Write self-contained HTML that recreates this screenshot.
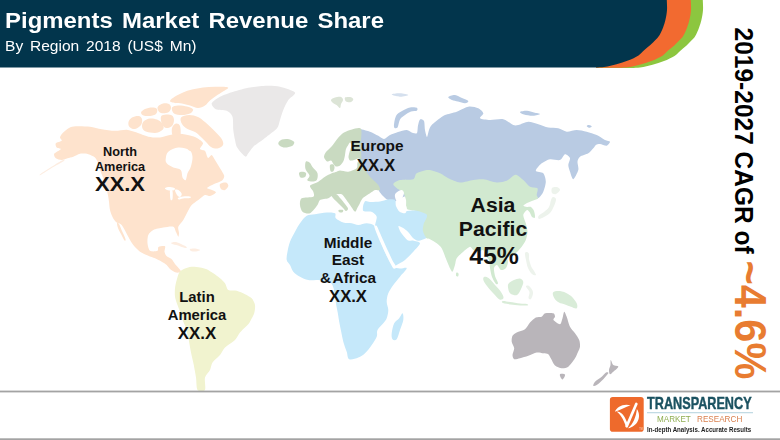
<!DOCTYPE html>
<html lang="en"><head><meta charset="utf-8"><title>Pigments Market Revenue Share</title>
<style>
html,body{margin:0;padding:0;background:#fff;}
body{width:780px;height:440px;position:relative;overflow:hidden;font-family:"Liberation Sans",sans-serif;}
#art{position:absolute;left:0;top:0;width:780px;height:440px;display:block;}
.t{position:absolute;white-space:nowrap;font-weight:bold;color:#111;line-height:1;}
.c{transform:translateX(-50%) scaleX(1.06);text-align:center;}
#title{left:5.2px;top:9.9px;font-size:22.6px;color:#fff;word-spacing:2.4px;transform-origin:0 0;transform:scaleX(1.06);}
#sub{left:4.6px;top:38.9px;font-size:14.7px;color:#fff;font-weight:normal;word-spacing:2.3px;transform-origin:0 0;transform:scaleX(1.06);}
#cagr{left:0;top:0;transform-origin:0 0;transform:translate(772.2px,27.6px) rotate(90deg) scaleY(1.06);font-size:24.5px;color:#000;}
#cagr b{color:#E87C31;font-size:41.5px;}
</style></head><body>
<svg id="art" viewBox="0 0 780 440" width="780" height="440">
<defs><filter id="soft" x="0" y="0" width="780" height="440" filterUnits="userSpaceOnUse"><feGaussianBlur stdDeviation="0.45"/></filter></defs>
<g filter="url(#soft)">
<path fill="#B9CBE3" d="M362.0,129.5 C363.4,129.8 367.8,130.9 370.0,131.7 C372.2,132.5 376.4,134.8 378.3,135.8 C380.2,136.8 382.4,139.1 384.0,139.0 C385.6,138.9 388.1,135.9 390.0,135.0 C391.9,134.1 395.8,132.7 398.0,132.0 C400.2,131.3 404.7,129.9 406.7,130.0 C408.7,130.1 411.6,132.6 413.0,133.0 C414.4,133.4 416.3,134.0 417.0,133.0 C417.7,132.0 417.6,127.3 418.0,125.5 C418.4,123.7 419.2,120.1 420.0,119.5 C420.8,118.9 423.3,119.6 424.0,121.0 C424.7,122.4 424.6,127.9 425.0,130.0 C425.4,132.1 426.5,137.0 427.0,137.0 C427.5,137.0 428.4,131.6 429.0,130.0 C429.6,128.4 430.2,126.6 431.7,125.0 C433.2,123.4 438.2,119.6 440.0,118.3 C441.8,117.0 442.8,115.9 445.0,115.0 C447.2,114.1 453.6,112.8 456.7,111.7 C459.8,110.6 465.4,107.2 468.3,106.7 C471.2,106.2 476.3,107.4 478.3,108.3 C480.3,109.2 483.1,112.0 483.3,113.3 C483.5,114.6 479.1,117.4 480.0,118.3 C480.9,119.2 486.9,119.9 490.0,120.0 C493.1,120.1 500.2,118.5 503.3,119.2 C506.4,119.9 511.3,124.2 513.3,125.0 C515.3,125.8 516.3,125.4 518.3,125.0 C520.3,124.6 525.6,121.8 528.3,121.7 C531.0,121.6 535.6,123.4 538.3,124.2 C541.0,125.0 545.6,127.0 548.3,127.5 C551.0,128.0 555.8,127.7 558.3,128.3 C560.8,128.9 564.2,131.5 566.7,131.7 C569.2,131.9 574.0,130.0 576.7,130.0 C579.4,130.0 584.0,131.0 586.7,131.7 C589.4,132.4 594.3,133.9 596.7,135.0 C599.1,136.1 603.2,139.1 605.0,140.0 C606.8,140.9 609.8,140.9 610.0,141.7 C610.2,142.5 608.0,145.5 606.7,145.8 C605.4,146.1 601.4,144.1 600.0,144.0 C598.6,143.9 596.9,144.4 596.0,145.0 C595.1,145.6 594.3,147.2 593.3,148.3 C592.3,149.4 590.1,152.2 588.3,153.3 C586.5,154.4 581.4,155.6 580.0,156.7 C578.6,157.8 577.7,159.9 577.5,161.7 C577.3,163.5 578.9,167.7 578.3,170.0 C577.7,172.3 574.4,179.0 573.3,179.2 C572.2,179.4 570.7,173.6 570.0,171.7 C569.3,169.8 568.3,166.8 568.3,165.0 C568.3,163.2 570.4,159.4 570.0,158.0 C569.6,156.6 566.3,153.9 565.0,154.2 C563.7,154.5 562.0,159.3 560.0,160.0 C558.0,160.7 552.4,158.8 550.0,159.2 C547.6,159.6 543.6,161.8 541.7,163.3 C539.8,164.8 535.6,169.5 535.8,170.8 C536.0,172.1 542.0,171.8 543.3,173.3 C544.6,174.8 545.8,179.2 545.8,181.7 C545.8,184.2 544.2,189.6 543.3,191.7 C542.4,193.8 540.3,196.5 539.2,197.5 C538.1,198.5 537.6,198.7 535.0,199.0 C532.4,199.3 524.7,200.5 520.0,200.0 C515.3,199.5 509.3,195.7 500.0,195.0 C490.7,194.3 462.0,195.0 450.0,195.0 C438.0,195.0 417.2,194.2 410.0,195.0 C402.8,195.8 398.9,200.3 396.0,201.0 C393.1,201.7 389.7,200.7 388.0,200.0 C386.3,199.3 384.2,197.2 383.0,196.0 C381.8,194.8 379.8,192.4 379.0,191.0 C378.2,189.6 378.6,187.4 377.3,185.5 C376.0,183.6 371.0,179.5 369.0,177.0 C367.0,174.5 363.5,169.5 362.3,167.0 C361.1,164.5 360.3,161.6 360.0,158.0 C359.7,154.4 360.1,143.8 360.0,140.0 C359.9,136.2 359.2,130.9 359.5,129.5 C359.8,128.1 360.6,129.2 362.0,129.5 Z"/>
<path fill="#B9CBE3" d="M416.7,107.8 C415.6,107.2 412.4,107.0 410.0,107.5 C407.6,108.0 404.3,109.6 402.0,111.0 C399.7,112.4 397.3,113.4 396.0,116.0 C394.7,118.6 393.8,124.8 394.0,126.7 C394.2,128.6 396.5,128.7 397.5,127.5 C398.5,126.3 398.8,121.6 400.0,119.5 C401.2,117.4 403.2,116.3 405.0,115.0 C406.8,113.7 409.0,112.2 411.0,111.5 C413.0,110.8 415.9,111.4 416.8,110.8 C417.8,110.2 417.8,108.3 416.7,107.8 Z"/>
<path fill="#B9CBE3" d="M448.3,97.0 C448.8,96.2 452.7,94.8 455.0,95.0 C457.3,95.2 459.8,97.0 462.0,98.0 C464.2,99.0 467.8,100.1 468.3,101.0 C468.8,101.9 466.7,103.2 465.0,103.3 C463.3,103.4 460.2,102.0 458.0,101.5 C455.8,101.0 453.6,100.8 452.0,100.0 C450.4,99.2 447.8,97.8 448.3,97.0 Z"/>
<path fill="#B9CBE3" d="M520.0,112.0 C520.5,111.4 524.7,110.7 527.0,110.8 C529.3,110.9 531.8,112.0 534.0,112.5 C536.2,113.0 540.2,113.5 540.0,114.0 C539.8,114.5 535.7,115.7 533.0,115.8 C530.3,115.9 526.2,115.1 524.0,114.5 C521.8,113.9 519.5,112.6 520.0,112.0 Z"/>
<path fill="#D5E0EE" d="M391.7,94.5 C391.7,93.9 397.2,93.2 400.0,93.3 C402.8,93.4 408.3,94.4 408.3,95.0 C408.3,95.6 402.8,96.8 400.0,96.7 C397.2,96.6 391.7,95.1 391.7,94.5 Z"/>
<path fill="#B9CBE3" d="M586.7,126.0 C586.7,125.5 588.2,124.9 589.0,125.0 C589.8,125.1 591.7,126.0 591.7,126.5 C591.7,127.0 589.8,127.9 589.0,127.8 C588.2,127.7 586.7,126.5 586.7,126.0 Z"/>
<path fill="#C5E8FA" d="M306.7,215.8 C309.2,214.3 311.7,214.8 315.0,214.2 C318.3,213.6 323.4,212.7 326.7,212.5 C330.0,212.3 333.5,212.3 335.0,213.3 C336.5,214.3 334.4,216.8 335.8,218.3 C337.2,219.8 340.7,221.7 343.3,222.5 C345.9,223.3 349.2,222.9 351.7,223.3 C354.2,223.7 355.8,225.0 358.3,225.0 C360.8,225.0 364.2,223.3 366.7,223.3 C369.2,223.3 371.8,224.1 373.3,225.0 C374.9,225.9 374.9,226.5 376.0,229.0 C377.1,231.5 378.5,236.2 380.0,240.0 C381.5,243.8 383.3,248.1 385.0,251.7 C386.7,255.3 388.6,259.1 390.0,261.7 C391.4,264.2 391.6,265.9 393.3,267.0 C395.0,268.1 397.8,268.3 400.0,268.5 C402.2,268.7 406.7,266.9 406.7,268.3 C406.7,269.7 402.2,273.9 400.0,276.7 C397.8,279.5 395.2,282.2 393.3,285.0 C391.4,287.8 389.4,290.5 388.3,293.3 C387.2,296.1 386.7,298.9 386.7,301.7 C386.7,304.5 388.3,307.2 388.3,310.0 C388.3,312.8 387.5,316.1 386.7,318.3 C385.9,320.5 384.8,321.4 383.3,323.3 C381.8,325.2 378.6,327.8 377.5,330.0 C376.4,332.2 377.7,334.2 376.7,336.7 C375.7,339.2 373.6,342.2 371.7,345.0 C369.8,347.8 367.2,351.2 365.0,353.3 C362.8,355.4 360.9,356.5 358.3,357.5 C355.7,358.5 351.1,360.2 349.2,359.2 C347.3,358.2 347.7,354.6 346.7,351.7 C345.7,348.8 344.2,345.0 343.3,341.7 C342.4,338.4 341.9,335.0 341.2,331.7 C340.5,328.4 339.8,324.8 339.2,321.7 C338.6,318.6 338.3,315.8 337.8,313.0 C337.3,310.2 336.7,307.8 336.2,305.0 C335.7,302.2 335.4,298.8 335.0,296.0 C334.6,293.2 334.3,290.2 333.5,288.0 C332.7,285.8 332.5,283.8 330.0,282.5 C327.5,281.2 321.9,280.4 318.3,280.0 C314.7,279.6 311.4,280.6 308.3,280.0 C305.2,279.4 302.5,278.1 300.0,276.7 C297.5,275.3 295.0,273.6 293.3,271.7 C291.6,269.8 291.1,266.9 290.0,265.0 C288.9,263.1 287.1,262.2 286.7,260.0 C286.3,257.8 286.9,254.8 287.5,251.7 C288.1,248.6 288.8,245.0 290.0,241.7 C291.2,238.4 293.3,234.8 295.0,231.7 C296.7,228.6 298.1,226.0 300.0,223.3 C301.9,220.7 304.2,217.3 306.7,215.8 Z"/>
<path fill="#C5E8FA" d="M402.5,313.3 C403.2,313.6 403.7,317.2 403.3,320.0 C402.9,322.8 401.1,326.8 400.0,330.0 C398.9,333.2 397.9,337.7 396.7,339.2 C395.4,340.7 393.3,340.2 392.5,339.2 C391.7,338.2 391.4,335.9 391.7,333.3 C392.0,330.7 392.9,325.8 394.2,323.3 C395.4,320.8 397.8,320.0 399.2,318.3 C400.6,316.6 401.8,313.0 402.5,313.3 Z"/>
<path fill="#C5E8FA" d="M365.5,201.0 C366.4,200.6 368.1,201.9 370.0,202.0 C371.9,202.1 377.6,201.8 380.0,201.5 C382.4,201.2 386.0,199.7 388.0,199.5 C390.0,199.3 393.9,199.1 395.0,200.0 C396.1,200.9 395.3,204.4 396.0,206.0 C396.7,207.6 398.5,211.3 400.0,212.0 C401.5,212.7 404.6,211.3 407.0,211.0 C409.4,210.7 415.1,209.7 418.0,210.0 C420.9,210.3 427.8,211.6 429.0,213.5 C430.2,215.4 427.5,221.7 427.0,224.0 C426.5,226.3 425.0,229.2 425.0,231.0 C425.0,232.8 427.9,236.2 427.0,237.5 C426.1,238.8 420.1,240.7 418.3,240.8 C416.5,240.9 414.5,239.3 413.3,238.3 C412.1,237.3 410.2,234.3 409.0,233.0 C407.8,231.7 405.4,229.4 404.0,228.5 C402.6,227.6 399.0,225.7 398.5,226.0 C398.0,226.3 399.3,229.6 400.0,231.0 C400.7,232.4 402.9,235.2 404.0,236.5 C405.1,237.8 406.8,240.0 408.0,240.5 C409.2,241.0 411.4,240.1 413.0,240.5 C414.6,240.9 420.0,241.8 420.0,243.3 C420.0,244.8 415.3,249.5 413.3,251.7 C411.3,253.9 407.2,258.2 405.0,260.0 C402.8,261.8 398.4,264.0 396.7,265.0 C395.0,266.0 393.4,267.9 392.5,267.5 C391.6,267.1 391.0,263.8 390.0,261.7 C389.0,259.6 386.3,254.6 385.0,251.7 C383.7,248.8 381.1,242.9 380.0,240.0 C378.9,237.1 377.7,231.9 377.0,230.0 C376.3,228.1 375.0,227.8 375.0,226.0 C375.0,224.2 377.1,218.6 376.7,216.7 C376.3,214.8 373.4,212.7 372.0,212.0 C370.6,211.3 367.2,211.7 366.0,211.5 C364.8,211.3 363.4,211.4 363.0,210.5 C362.6,209.6 363.0,206.3 363.3,205.0 C363.6,203.7 364.6,201.4 365.5,201.0 Z"/>
<path fill="#FFFFFF" d="M374.3,226.5 C374.3,225.6 376.1,225.3 376.8,226.0 C377.5,226.7 378.6,230.0 379.5,232.0 C380.4,234.0 382.3,238.3 383.5,241.0 C384.7,243.7 387.2,249.3 388.5,252.0 C389.8,254.7 391.9,259.5 393.0,261.5 C394.1,263.5 396.4,266.3 396.5,267.2 C396.6,268.1 394.3,269.0 393.5,268.5 C392.7,268.0 391.6,265.5 390.5,263.5 C389.4,261.5 386.8,256.3 385.5,253.5 C384.2,250.7 381.7,245.2 380.5,242.5 C379.3,239.8 377.3,235.1 376.5,233.0 C375.7,230.9 374.3,227.4 374.3,226.5 Z"/>
<path fill="#D1E9D0" d="M393.3,184.0 C393.6,182.8 397.3,180.6 400.0,180.0 C402.7,179.4 411.1,180.1 413.3,179.2 C415.5,178.3 414.7,174.5 416.7,173.3 C418.7,172.1 425.2,170.0 428.3,170.0 C431.4,170.0 437.3,172.2 440.0,173.3 C442.7,174.4 445.6,177.1 448.3,178.3 C451.0,179.5 456.7,182.3 460.0,182.5 C463.3,182.7 470.2,180.4 473.3,180.0 C476.4,179.6 480.2,178.9 483.3,179.2 C486.4,179.5 493.6,182.3 496.7,182.5 C499.8,182.7 504.5,181.7 506.7,180.8 C508.9,179.9 512.0,176.6 513.3,175.8 C514.6,175.0 515.4,174.4 516.7,175.0 C518.0,175.6 521.5,178.4 523.3,180.0 C525.1,181.6 528.1,185.6 530.0,186.7 C531.9,187.8 536.6,187.2 537.5,188.3 C538.4,189.4 536.6,193.6 536.7,195.0 C536.8,196.4 538.5,197.8 538.0,198.5 C537.5,199.2 534.8,199.9 533.3,200.5 C531.8,201.1 528.3,202.3 527.0,203.0 C525.7,203.7 523.3,205.3 523.3,205.8 C523.3,206.3 526.0,206.8 527.0,207.0 C528.0,207.2 530.1,206.5 531.0,207.0 C531.9,207.5 533.5,209.6 534.0,211.0 C534.5,212.4 535.3,216.7 535.0,217.5 C534.7,218.3 532.7,217.7 532.0,217.0 C531.3,216.3 530.2,212.9 529.5,212.0 C528.8,211.1 527.8,209.6 527.0,210.0 C526.2,210.4 523.5,213.2 523.3,215.0 C523.1,216.8 525.2,221.1 525.8,223.3 C526.4,225.5 527.5,229.5 527.5,231.7 C527.5,233.9 526.6,238.0 525.8,240.0 C525.0,242.0 522.9,245.1 521.7,246.7 C520.5,248.3 518.3,250.8 517.0,252.0 C515.7,253.2 513.3,255.3 512.0,256.0 C510.7,256.7 507.5,256.2 507.0,257.0 C506.5,257.8 508.1,260.5 508.0,262.0 C507.9,263.5 506.9,266.9 506.0,268.0 C505.1,269.1 502.2,270.4 501.0,270.0 C499.8,269.6 497.9,265.3 497.0,265.0 C496.1,264.7 494.3,266.5 494.0,268.0 C493.7,269.5 494.5,274.0 495.0,276.0 C495.5,278.0 497.9,281.9 498.0,283.0 C498.1,284.1 496.8,284.8 496.0,284.0 C495.2,283.2 492.8,279.1 492.0,277.0 C491.2,274.9 490.4,270.3 490.0,268.0 C489.6,265.7 489.5,261.6 489.0,260.0 C488.5,258.4 486.8,257.3 486.0,256.0 C485.2,254.7 484.1,250.5 483.0,250.0 C481.9,249.5 479.3,252.0 478.0,252.0 C476.7,252.0 474.4,250.7 473.3,250.0 C472.2,249.3 471.3,246.5 470.0,246.7 C468.7,246.9 465.1,250.2 463.3,251.7 C461.5,253.2 457.8,256.5 456.7,258.3 C455.6,260.1 455.6,263.2 455.0,265.0 C454.4,266.8 453.2,271.3 452.5,271.7 C451.8,272.1 450.9,270.1 450.0,268.3 C449.1,266.5 446.9,261.0 445.8,258.3 C444.7,255.6 442.9,250.3 441.7,248.3 C440.5,246.3 438.3,244.5 436.7,243.3 C435.1,242.1 431.3,239.9 430.0,239.2 C428.7,238.5 427.4,238.9 426.7,238.3 C426.0,237.7 425.0,236.1 424.5,235.0 C424.0,233.9 422.9,231.5 422.8,230.0 C422.7,228.5 423.2,225.5 423.8,223.5 C424.4,221.5 427.8,216.7 427.0,215.0 C426.2,213.3 420.7,211.8 418.0,211.0 C415.3,210.2 408.6,210.5 407.0,209.0 C405.4,207.5 406.5,202.3 406.0,200.0 C405.5,197.7 404.1,193.5 403.0,192.0 C401.9,190.5 399.3,190.1 398.0,189.0 C396.7,187.9 393.0,185.2 393.3,184.0 Z"/>
<path fill="#D1E9D0" d="M456.5,272.5 C456.9,272.2 458.2,272.8 458.5,273.5 C458.8,274.2 458.4,276.2 458.0,276.5 C457.6,276.8 456.2,276.2 456.0,275.5 C455.8,274.8 456.1,272.8 456.5,272.5 Z"/>
<path fill="#FFFFFF" d="M401.5,190.0 C400.2,190.0 397.1,191.8 396.0,193.0 C394.9,194.2 394.7,195.0 395.0,197.0 C395.3,199.0 397.2,202.6 398.0,205.0 C398.8,207.4 398.8,210.2 400.0,211.5 C401.2,212.8 404.4,213.8 405.5,213.0 C406.6,212.2 407.0,209.3 406.5,207.0 C406.0,204.7 402.9,201.3 402.5,199.0 C402.1,196.7 404.2,194.5 404.0,193.0 C403.8,191.5 402.8,190.0 401.5,190.0 Z"/>
<path fill="#D9ECD8" d="M484.0,277.0 C484.8,276.6 486.7,276.7 488.5,278.0 C490.3,279.3 492.9,282.7 495.0,285.0 C497.1,287.3 499.6,289.8 501.0,292.0 C502.4,294.2 503.8,296.8 503.5,298.0 C503.2,299.2 501.2,300.3 499.5,299.5 C497.8,298.7 495.1,295.2 493.0,293.0 C490.9,290.8 488.6,288.1 487.0,286.0 C485.4,283.9 484.0,282.0 483.5,280.5 C483.0,279.0 483.2,277.4 484.0,277.0 Z"/>
<path fill="#D9ECD8" d="M508.3,284.0 C509.2,282.3 512.0,280.9 514.0,280.0 C516.0,279.1 518.5,278.2 520.0,278.5 C521.5,278.8 523.1,280.2 523.3,282.0 C523.5,283.8 522.0,286.8 521.0,289.0 C520.0,291.2 518.7,294.2 517.0,295.0 C515.3,295.8 512.4,294.8 511.0,294.0 C509.6,293.2 508.9,291.7 508.5,290.0 C508.1,288.3 507.4,285.7 508.3,284.0 Z"/>
<path fill="#D9ECD8" d="M503.0,301.0 C504.2,300.8 507.2,301.6 510.0,302.0 C512.8,302.4 517.2,303.2 520.0,303.5 C522.8,303.8 525.8,303.7 527.0,304.0 C528.2,304.3 529.0,305.3 527.0,305.5 C525.0,305.7 519.0,305.4 515.0,305.0 C511.0,304.6 505.0,303.7 503.0,303.0 C501.0,302.3 501.8,301.2 503.0,301.0 Z"/>
<path fill="#D9ECD8" d="M553.0,292.5 C553.9,291.2 557.5,290.8 560.0,291.0 C562.5,291.2 565.8,292.8 568.0,294.0 C570.2,295.2 571.5,296.3 573.0,298.0 C574.5,299.7 576.4,302.2 577.0,304.0 C577.6,305.8 577.5,308.0 576.5,308.5 C575.5,309.0 572.9,307.5 571.0,306.8 C569.1,306.1 567.0,305.2 565.0,304.5 C563.0,303.8 560.8,303.5 559.0,302.5 C557.2,301.5 555.5,300.2 554.5,298.5 C553.5,296.8 552.1,293.8 553.0,292.5 Z"/>
<path fill="#EDF3EC" d="M526.0,254.0 C526.2,253.0 528.0,252.5 528.5,253.0 C529.0,253.5 529.2,256.0 529.0,257.0 C528.8,258.0 527.5,259.5 527.0,259.0 C526.5,258.5 525.8,255.0 526.0,254.0 Z"/>
<path fill="#EDF3EC" d="M525.0,253.0 C525.3,251.8 527.3,251.5 528.0,252.5 C528.7,253.5 528.5,256.8 529.0,259.0 C529.5,261.2 530.2,264.0 531.0,266.0 C531.8,268.0 533.2,269.5 534.0,271.0 C534.8,272.5 536.3,274.5 536.0,275.0 C535.7,275.5 533.3,275.2 532.0,274.0 C530.7,272.8 529.0,270.3 528.0,268.0 C527.0,265.7 526.5,262.5 526.0,260.0 C525.5,257.5 524.7,254.2 525.0,253.0 Z"/>
<path fill="#EDF3EC" d="M526.0,286.5 C525.9,285.5 527.8,285.1 529.0,286.0 C530.2,286.9 532.7,289.8 533.0,292.0 C533.3,294.2 531.8,298.0 531.0,299.0 C530.2,300.0 528.8,299.2 528.5,298.0 C528.2,296.8 529.9,293.9 529.5,292.0 C529.1,290.1 526.1,287.5 526.0,286.5 Z"/>
<path fill="#EDF3EC" d="M538.5,216.0 C539.3,214.8 542.2,213.5 544.0,212.0 C545.8,210.5 547.8,209.0 549.0,207.0 C550.2,205.0 550.3,201.7 551.0,200.0 C551.7,198.3 552.2,197.2 553.0,197.0 C553.8,196.8 555.8,197.5 556.0,199.0 C556.2,200.5 555.0,203.7 554.0,206.0 C553.0,208.3 551.7,211.2 550.0,213.0 C548.3,214.8 545.8,216.0 544.0,217.0 C542.2,218.0 539.9,219.2 539.0,219.0 C538.1,218.8 537.7,217.2 538.5,216.0 Z"/>
<path fill="#EDF3EC" d="M552.0,188.0 C552.8,187.0 555.7,186.7 557.0,187.0 C558.3,187.3 560.2,188.8 560.0,190.0 C559.8,191.2 557.3,193.5 556.0,194.0 C554.7,194.5 552.7,194.0 552.0,193.0 C551.3,192.0 551.2,189.0 552.0,188.0 Z"/>
<path fill="#C9DAC1" d="M361.0,129.0 C359.8,126.9 354.3,129.0 352.0,129.5 C349.7,130.0 345.9,131.4 344.0,132.5 C342.1,133.6 339.6,136.2 338.0,138.0 C336.4,139.8 333.6,144.1 332.0,146.0 C330.4,147.9 327.1,150.5 326.0,152.0 C324.9,153.5 323.9,155.7 324.0,157.0 C324.1,158.3 326.1,161.0 327.0,161.5 C327.9,162.0 330.1,160.2 331.0,160.5 C331.9,160.8 332.8,163.2 333.5,164.0 C334.2,164.8 335.1,166.3 336.0,166.5 C336.9,166.7 339.0,166.2 340.0,165.5 C341.0,164.8 342.8,162.4 343.5,161.0 C344.2,159.6 344.7,156.6 345.0,155.0 C345.3,153.4 345.5,150.4 346.0,149.0 C346.5,147.6 348.0,145.4 348.5,144.5 C349.0,143.6 349.6,142.4 350.0,142.5 C350.4,142.6 351.5,144.4 351.5,145.5 C351.5,146.6 350.2,149.5 349.8,151.0 C349.4,152.5 348.5,155.7 348.5,157.0 C348.5,158.3 349.3,160.1 350.0,160.5 C350.7,160.9 352.9,160.3 354.0,160.0 C355.1,159.7 357.0,158.8 358.0,158.5 C359.0,158.2 360.9,159.8 361.3,158.0 C361.7,156.2 360.7,148.9 360.7,145.0 C360.7,141.1 362.2,131.1 361.0,129.0 Z"/>
<path fill="#C9DAC1" d="M361.3,158.5 C360.5,157.9 358.1,161.2 357.5,162.5 C356.9,163.8 357.9,167.1 356.7,168.3 C355.5,169.5 350.5,171.4 348.3,171.7 C346.1,172.0 341.5,170.5 340.0,170.5 C338.5,170.5 337.8,171.3 336.7,171.7 C335.6,172.1 333.3,172.6 331.7,173.3 C330.1,174.0 326.8,175.6 325.0,176.7 C323.2,177.8 320.3,180.5 318.3,181.7 C316.3,182.9 310.7,184.5 310.0,185.8 C309.3,187.1 312.9,190.2 313.3,191.7 C313.7,193.2 314.8,195.8 313.3,196.7 C311.8,197.6 303.5,197.2 301.7,198.3 C299.9,199.4 299.9,203.2 300.0,205.0 C300.1,206.8 301.2,210.6 302.5,211.7 C303.8,212.8 308.0,214.2 310.0,213.3 C312.0,212.4 316.2,206.8 317.5,205.0 C318.8,203.2 318.6,200.9 320.0,200.0 C321.4,199.1 326.5,199.0 328.3,198.3 C330.1,197.6 331.6,195.6 333.3,195.0 C335.0,194.4 339.4,193.6 341.0,194.0 C342.6,194.4 343.8,196.5 345.0,198.0 C346.2,199.5 348.7,203.2 350.0,205.0 C351.3,206.8 354.0,211.3 355.0,211.7 C356.0,212.1 356.7,209.0 357.3,208.0 C357.9,207.0 358.6,205.8 359.3,204.5 C360.0,203.2 361.1,200.0 362.5,198.5 C363.9,197.0 368.3,194.4 370.0,193.3 C371.7,192.2 373.7,190.4 375.0,190.0 C376.3,189.6 379.6,190.7 380.0,190.0 C380.4,189.3 379.6,186.8 378.3,185.0 C377.0,183.2 372.0,179.1 370.0,176.7 C368.0,174.3 364.5,169.1 363.3,166.7 C362.1,164.3 362.1,159.1 361.3,158.5 Z"/>
<path fill="#C9DAC1" d="M331.0,194.5 C331.5,193.8 334.4,193.3 336.0,194.0 C337.6,194.7 339.0,196.8 340.5,198.5 C342.0,200.2 343.8,202.3 345.0,204.0 C346.2,205.7 347.8,207.3 348.0,208.5 C348.2,209.7 346.8,211.0 346.0,211.0 C345.2,211.0 344.5,209.5 343.5,208.5 C342.5,207.5 341.2,206.2 340.0,205.0 C338.8,203.8 337.2,202.2 336.0,201.0 C334.8,199.8 333.8,199.1 333.0,198.0 C332.2,196.9 330.5,195.2 331.0,194.5 Z"/>
<path fill="#C9DAC1" d="M338.5,210.2 C339.1,209.8 342.3,209.7 343.0,210.0 C343.7,210.3 343.1,211.9 342.5,212.3 C341.9,212.7 340.2,212.7 339.5,212.3 C338.8,212.0 337.9,210.6 338.5,210.2 Z"/>
<path fill="#C9DAC1" d="M330.0,165.0 C330.5,163.9 332.8,164.0 333.5,164.5 C334.2,165.0 334.6,166.8 334.5,168.0 C334.4,169.2 333.7,171.0 333.0,171.5 C332.3,172.0 331.0,172.1 330.5,171.0 C330.0,169.9 329.5,166.1 330.0,165.0 Z"/>
<path fill="#C9DAC1" d="M305.8,161.7 C306.6,160.7 308.9,162.1 310.0,163.0 C311.1,163.9 311.2,165.3 312.5,167.0 C313.8,168.7 316.9,171.0 317.5,173.3 C318.1,175.6 317.7,179.6 316.0,180.8 C314.3,182.0 308.6,181.4 307.5,180.5 C306.4,179.6 309.8,177.4 309.5,175.5 C309.2,173.6 306.1,171.3 305.5,169.0 C304.9,166.7 305.1,162.7 305.8,161.7 Z"/>
<path fill="#C9DAC1" d="M299.0,173.0 C299.2,172.0 300.8,171.7 302.0,171.7 C303.2,171.7 305.5,172.1 306.0,173.0 C306.5,173.9 305.9,176.2 305.0,177.0 C304.1,177.8 301.5,178.2 300.5,177.5 C299.5,176.8 298.8,174.0 299.0,173.0 Z"/>
<path fill="#C9DAC1" d="M278.3,143.0 C278.6,141.9 280.2,140.1 282.0,139.5 C283.8,138.9 287.0,138.8 289.0,139.2 C291.0,139.6 293.7,140.9 294.2,142.0 C294.7,143.1 293.5,145.1 292.0,146.0 C290.5,146.9 287.0,147.5 285.0,147.5 C283.0,147.5 281.1,146.8 280.0,146.0 C278.9,145.2 278.0,144.1 278.3,143.0 Z"/>
<path fill="#DCE4D6" d="M331.0,100.0 C331.3,99.1 333.3,98.0 335.0,97.5 C336.7,97.0 339.7,96.6 341.0,97.0 C342.3,97.4 343.0,98.8 343.0,100.0 C343.0,101.2 341.5,102.7 341.0,104.0 C340.5,105.3 340.8,107.8 340.0,108.0 C339.2,108.2 337.7,105.8 336.5,105.0 C335.3,104.2 333.9,103.8 333.0,103.0 C332.1,102.2 330.7,100.9 331.0,100.0 Z"/>
<path fill="#DCE4D6" d="M345.0,97.5 C345.7,96.8 348.6,96.8 350.0,97.0 C351.4,97.2 353.1,98.2 353.3,99.0 C353.5,99.8 352.2,101.6 351.0,102.0 C349.8,102.4 347.0,102.2 346.0,101.5 C345.0,100.8 344.3,98.2 345.0,97.5 Z"/>
<path fill="#EAE8E8" d="M211.7,103.3 C212.3,101.6 217.1,98.2 220.0,96.7 C222.9,95.2 229.3,92.9 233.3,91.7 C237.3,90.5 245.5,88.3 250.0,87.5 C254.5,86.7 262.7,85.9 266.7,85.8 C270.7,85.7 276.2,85.8 280.0,86.7 C283.8,87.6 293.9,90.7 295.0,92.5 C296.1,94.3 289.9,97.7 288.3,100.0 C286.7,102.3 284.4,107.3 283.3,110.0 C282.2,112.7 280.8,117.6 280.0,120.0 C279.2,122.4 278.8,126.1 277.0,128.3 C275.2,130.5 269.0,134.9 266.7,136.7 C264.4,138.5 261.8,140.4 260.0,141.7 C258.2,143.0 254.9,145.2 253.3,146.7 C251.7,148.2 249.3,152.0 248.3,153.3 C247.3,154.6 246.7,156.7 245.8,156.7 C244.9,156.7 242.9,154.6 241.7,153.3 C240.5,152.0 237.6,148.5 236.7,146.7 C235.8,144.9 235.5,142.2 235.0,140.0 C234.5,137.8 233.6,133.1 233.3,130.0 C233.0,126.9 233.4,119.3 232.5,116.7 C231.6,114.1 228.9,111.8 226.7,110.8 C224.5,109.8 217.8,110.2 215.8,109.2 C213.8,108.2 211.1,105.0 211.7,103.3 Z"/>
<path fill="#FEE3CD" d="M62.5,133.3 C63.7,132.0 67.2,128.9 69.0,128.0 C70.8,127.1 73.0,126.5 75.8,126.3 C78.6,126.1 86.5,126.3 90.0,126.7 C93.5,127.1 98.4,128.7 101.7,129.2 C105.0,129.7 111.7,130.7 115.0,130.8 C118.3,130.9 123.8,129.5 126.7,129.7 C129.6,129.9 133.8,131.6 136.7,132.5 C139.6,133.4 145.2,136.0 148.3,136.7 C151.4,137.4 157.1,137.7 160.0,137.5 C162.9,137.3 167.3,135.5 170.0,135.0 C172.7,134.5 177.3,133.7 180.0,133.8 C182.7,133.8 187.7,134.9 190.0,135.5 C192.3,136.1 195.3,137.0 197.0,138.0 C198.7,139.0 202.6,141.5 203.0,143.0 C203.4,144.5 199.7,147.9 200.0,149.0 C200.3,150.1 203.9,149.8 205.0,151.0 C206.1,152.2 207.1,157.5 208.0,158.0 C208.9,158.5 210.8,154.7 211.7,155.0 C212.6,155.3 213.9,158.2 215.0,160.0 C216.1,161.8 218.8,166.2 220.0,168.3 C221.2,170.4 224.0,174.1 224.2,175.8 C224.4,177.5 223.1,179.7 221.7,180.8 C220.3,181.9 216.0,183.0 214.0,184.0 C212.0,185.0 207.3,187.2 207.0,188.0 C206.7,188.8 210.8,189.4 212.0,190.0 C213.2,190.6 216.3,191.7 216.0,192.5 C215.7,193.3 211.5,195.7 210.0,196.0 C208.5,196.3 206.6,194.5 205.0,195.0 C203.4,195.5 200.1,198.7 198.3,200.0 C196.5,201.3 193.1,203.5 191.7,205.0 C190.3,206.5 189.1,209.0 188.0,211.0 C186.9,213.0 184.6,217.9 183.3,220.0 C182.0,222.1 178.9,225.0 178.3,226.7 C177.7,228.4 179.0,231.7 179.0,233.0 C179.0,234.3 178.7,236.8 178.3,236.7 C177.9,236.6 176.7,233.3 176.0,232.0 C175.3,230.7 175.0,227.3 173.3,226.7 C171.6,226.1 166.0,227.1 163.3,227.5 C160.6,227.9 155.3,229.0 153.3,230.0 C151.3,231.0 149.1,233.2 148.3,235.0 C147.5,236.8 147.3,241.2 147.5,243.3 C147.7,245.4 148.7,249.8 150.0,250.8 C151.3,251.8 156.4,251.3 157.5,250.8 C158.6,250.3 157.5,247.6 158.5,247.0 C159.5,246.4 164.2,245.7 165.0,246.3 C165.8,246.9 164.3,250.4 164.5,251.7 C164.7,253.0 165.6,255.0 166.5,256.0 C167.4,257.0 170.4,257.9 171.5,259.0 C172.6,260.1 174.1,262.8 175.0,264.0 C175.9,265.2 177.7,267.0 178.5,268.0 C179.3,269.0 181.3,271.1 181.0,271.7 C180.7,272.3 177.5,272.9 176.0,272.5 C174.5,272.1 171.2,270.0 170.0,269.0 C168.8,268.0 167.8,266.0 166.7,265.0 C165.6,264.0 163.3,262.6 161.7,261.7 C160.1,260.8 156.8,259.1 155.0,258.3 C153.2,257.5 150.3,256.7 148.3,255.8 C146.3,254.9 142.0,253.1 140.0,251.7 C138.0,250.3 134.9,247.0 133.3,245.0 C131.7,243.0 129.8,239.4 128.3,236.7 C126.8,234.0 123.2,226.9 121.7,225.0 C120.2,223.1 117.9,223.4 116.7,222.5 C115.5,221.6 113.9,219.7 113.0,218.0 C112.1,216.3 110.5,212.2 110.0,210.0 C109.5,207.8 109.3,204.0 109.0,201.7 C108.7,199.4 108.2,195.9 107.5,193.0 C106.8,190.1 105.0,183.1 104.0,180.0 C103.0,176.9 100.8,172.2 100.0,170.0 C99.2,167.8 99.0,165.0 98.3,163.3 C97.6,161.6 96.3,158.7 95.0,157.5 C93.7,156.3 90.3,154.7 88.3,154.2 C86.3,153.7 82.0,153.4 80.0,153.7 C78.0,154.0 75.0,156.1 73.3,156.7 C71.6,157.3 69.0,157.9 67.5,158.3 C66.0,158.7 63.3,160.0 61.7,160.0 C60.1,160.0 56.8,159.1 55.8,158.3 C54.8,157.5 53.5,154.9 54.2,153.7 C54.9,152.5 60.5,150.0 60.8,149.2 C61.1,148.4 57.4,148.3 56.7,147.5 C56.0,146.7 55.1,144.2 55.8,143.3 C56.5,142.4 61.1,141.6 61.7,140.8 C62.3,140.0 59.9,138.5 60.0,137.5 C60.1,136.5 61.3,134.6 62.5,133.3 Z"/>
<path fill="#FEE3CD" d="M117.0,223.0 C117.2,222.3 118.2,222.7 119.0,224.0 C119.8,225.3 120.9,228.5 122.0,231.0 C123.1,233.5 125.1,237.4 125.5,239.0 C125.9,240.6 125.2,241.3 124.5,240.5 C123.8,239.7 122.1,236.1 121.0,234.0 C119.9,231.9 118.7,229.8 118.0,228.0 C117.3,226.2 116.8,223.7 117.0,223.0 Z"/>
<path fill="#FDEDE1" d="M63.0,160.0 C65.0,159.1 65.4,159.9 63.6,161.2 C61.8,162.5 55.8,165.5 52.0,167.8 C48.2,170.1 42.9,173.8 41.0,174.8 C39.1,175.8 38.9,175.3 40.6,174.0 C42.4,172.7 47.8,169.1 51.5,166.8 C55.2,164.5 61.0,160.9 63.0,160.0 Z"/>
<path fill="#FEE3CD" d="M220.0,184.0 C220.8,182.9 224.6,182.2 226.0,182.5 C227.4,182.8 228.5,184.8 228.3,186.0 C228.1,187.2 226.2,189.5 225.0,190.0 C223.8,190.5 221.8,190.0 221.0,189.0 C220.2,188.0 219.2,185.1 220.0,184.0 Z"/>
<path fill="#FDEDE1" d="M171.7,242.5 C172.4,242.2 174.3,241.7 176.0,242.0 C177.7,242.3 180.2,243.7 182.0,244.5 C183.8,245.3 186.2,246.4 186.7,247.0 C187.2,247.6 186.4,248.2 185.0,248.0 C183.6,247.8 180.2,246.2 178.0,245.5 C175.8,244.8 173.1,244.5 172.0,244.0 C170.9,243.5 171.0,242.8 171.7,242.5 Z"/>
<path fill="#FDEDE1" d="M190.0,249.0 C190.7,248.6 193.3,248.3 195.0,248.5 C196.7,248.7 199.8,249.5 200.0,250.0 C200.2,250.5 197.5,251.3 196.0,251.5 C194.5,251.7 192.0,251.4 191.0,251.0 C190.0,250.6 189.3,249.4 190.0,249.0 Z"/>
<path fill="#FFFFFF" d="M165.8,158.3 C166.1,156.4 166.2,153.5 168.3,151.7 C170.4,149.9 174.8,147.8 178.3,147.5 C181.8,147.2 186.8,148.5 189.2,150.0 C191.6,151.5 192.2,153.9 192.5,156.7 C192.8,159.5 191.6,163.9 190.8,166.7 C190.0,169.5 188.3,171.1 187.5,173.3 C186.7,175.5 186.6,179.3 185.8,180.0 C185.0,180.7 183.3,179.2 182.5,177.5 C181.7,175.8 182.3,171.7 180.8,170.0 C179.3,168.3 175.7,168.6 173.3,167.5 C171.0,166.4 167.9,164.8 166.7,163.3 C165.4,161.8 165.5,160.2 165.8,158.3 Z"/>
<path fill="#FFFFFF" d="M165.0,188.0 C165.5,187.5 168.3,186.9 170.0,187.0 C171.7,187.1 174.5,187.9 175.0,188.5 C175.5,189.1 174.3,190.2 173.0,190.5 C171.7,190.8 168.3,190.4 167.0,190.0 C165.7,189.6 164.5,188.5 165.0,188.0 Z"/>
<path fill="#FFFFFF" d="M170.0,190.5 C170.3,189.1 172.1,189.6 172.5,191.0 C172.9,192.4 172.8,197.6 172.5,199.0 C172.2,200.4 170.9,200.9 170.5,199.5 C170.1,198.1 169.7,191.9 170.0,190.5 Z"/>
<path fill="#FFFFFF" d="M175.0,190.0 C175.3,189.2 177.9,189.8 179.0,190.5 C180.1,191.2 181.5,192.9 181.7,194.0 C181.9,195.1 180.8,196.8 180.0,197.0 C179.2,197.2 177.8,196.2 177.0,195.0 C176.2,193.8 174.7,190.8 175.0,190.0 Z"/>
<path fill="#FFFFFF" d="M178.0,198.0 C178.7,197.5 181.0,196.8 183.0,196.5 C185.0,196.2 188.8,196.2 190.0,196.5 C191.2,196.8 191.2,197.7 190.0,198.0 C188.8,198.3 184.8,198.2 183.0,198.5 C181.2,198.8 179.8,199.6 179.0,199.5 C178.2,199.4 177.3,198.5 178.0,198.0 Z"/>
<path fill="#FEE3CD" d="M128.5,122.0 C128.9,120.4 130.3,118.5 132.0,117.5 C133.7,116.5 136.8,115.8 138.5,116.0 C140.2,116.2 141.6,117.5 142.0,119.0 C142.4,120.5 142.2,123.3 141.0,125.0 C139.8,126.7 136.9,128.7 135.0,129.0 C133.1,129.3 130.6,128.2 129.5,127.0 C128.4,125.8 128.1,123.6 128.5,122.0 Z"/>
<path fill="#FEE3CD" d="M142.0,126.0 C142.0,124.4 142.7,122.2 144.0,121.0 C145.3,119.8 147.8,118.8 150.0,118.5 C152.2,118.2 155.0,118.8 157.0,119.5 C159.0,120.2 160.9,121.5 162.0,123.0 C163.1,124.5 164.2,126.9 163.5,128.5 C162.8,130.1 160.2,131.8 158.0,132.5 C155.8,133.2 152.3,132.8 150.0,132.5 C147.7,132.2 145.3,131.6 144.0,130.5 C142.7,129.4 142.0,127.6 142.0,126.0 Z"/>
<path fill="#FEE3CD" d="M141.0,112.5 C141.2,111.4 143.2,109.8 145.0,109.0 C146.8,108.2 150.0,107.5 152.0,107.5 C154.0,107.5 156.3,107.9 157.0,109.0 C157.7,110.1 157.2,112.8 156.0,114.0 C154.8,115.2 152.1,115.8 150.0,116.0 C147.9,116.2 145.0,116.1 143.5,115.5 C142.0,114.9 140.8,113.6 141.0,112.5 Z"/>
<path fill="#FEE3CD" d="M158.0,106.5 C158.8,105.4 161.2,103.9 163.0,103.5 C164.8,103.1 167.7,103.2 169.0,104.0 C170.3,104.8 171.2,106.6 171.0,108.0 C170.8,109.4 169.7,111.7 168.0,112.5 C166.3,113.3 162.7,113.4 161.0,113.0 C159.3,112.6 158.5,111.1 158.0,110.0 C157.5,108.9 157.2,107.6 158.0,106.5 Z"/>
<path fill="#FEE3CD" d="M172.0,107.5 C172.7,106.2 175.5,105.7 178.0,105.5 C180.5,105.3 184.5,105.8 187.0,106.5 C189.5,107.2 192.5,108.3 193.0,109.5 C193.5,110.7 191.8,112.6 190.0,113.5 C188.2,114.4 184.7,115.0 182.0,115.0 C179.3,115.0 175.7,114.8 174.0,113.5 C172.3,112.2 171.3,108.8 172.0,107.5 Z"/>
<path fill="#FEE3CD" d="M170.0,101.0 C170.0,99.9 172.8,97.9 175.0,96.5 C177.2,95.1 180.2,93.7 183.0,92.5 C185.8,91.3 188.7,90.3 192.0,89.5 C195.3,88.7 199.2,88.0 203.0,87.5 C206.8,87.0 210.8,86.8 215.0,86.8 C219.2,86.8 226.7,86.7 228.0,87.5 C229.3,88.3 225.0,90.1 223.0,91.5 C221.0,92.9 218.2,94.5 216.0,96.0 C213.8,97.5 211.8,98.9 210.0,100.5 C208.2,102.1 207.0,104.2 205.0,105.5 C203.0,106.8 200.5,108.0 198.0,108.0 C195.5,108.0 192.7,106.2 190.0,105.5 C187.3,104.8 184.5,103.9 182.0,103.5 C179.5,103.1 177.0,103.4 175.0,103.0 C173.0,102.6 170.0,102.1 170.0,101.0 Z"/>
<path fill="#FEE3CD" d="M161.0,116.5 C161.7,114.9 164.2,114.7 166.0,114.5 C167.8,114.3 170.7,114.6 172.0,115.5 C173.3,116.4 174.0,118.2 174.0,120.0 C174.0,121.8 173.3,124.7 172.0,126.0 C170.7,127.3 167.7,128.3 166.0,128.0 C164.3,127.7 162.8,125.9 162.0,124.0 C161.2,122.1 160.3,118.1 161.0,116.5 Z"/>
<path fill="#FEE3CD" d="M172.0,128.0 C172.5,125.9 174.7,123.8 176.0,123.5 C177.3,123.2 179.3,123.9 180.0,126.0 C180.7,128.1 181.2,134.3 180.0,136.0 C178.8,137.7 174.3,137.3 173.0,136.0 C171.7,134.7 171.5,130.1 172.0,128.0 Z"/>
<path fill="#FEE3CD" d="M181.0,117.5 C182.2,116.0 186.2,115.1 189.0,115.0 C191.8,114.9 195.3,115.8 198.0,117.0 C200.7,118.2 202.8,120.2 205.0,122.0 C207.2,123.8 209.0,125.6 211.0,127.5 C213.0,129.4 215.2,131.5 217.0,133.5 C218.8,135.5 221.0,137.6 222.0,139.5 C223.0,141.4 223.8,143.5 223.0,145.0 C222.2,146.5 219.5,148.2 217.5,148.5 C215.5,148.8 212.9,148.1 211.0,147.0 C209.1,145.9 207.7,143.7 206.0,142.0 C204.3,140.3 202.8,138.7 201.0,137.0 C199.2,135.3 197.2,133.3 195.0,132.0 C192.8,130.7 189.7,130.3 187.5,129.0 C185.3,127.7 183.1,125.9 182.0,124.0 C180.9,122.1 179.8,119.0 181.0,117.5 Z"/>
<path fill="#FEE3CD" d="M187.0,146.0 C187.5,144.9 190.3,143.9 192.0,144.0 C193.7,144.1 196.5,145.3 197.0,146.5 C197.5,147.7 196.3,150.3 195.0,151.0 C193.7,151.7 190.3,151.3 189.0,150.5 C187.7,149.7 186.5,147.1 187.0,146.0 Z"/>
<path fill="#F1F3CF" d="M179.2,272.5 C180.1,271.1 181.6,270.0 183.3,269.2 C185.0,268.4 189.5,266.9 191.7,266.7 C193.9,266.5 198.0,267.2 200.0,267.5 C202.0,267.8 204.9,268.4 206.7,269.2 C208.5,270.0 211.5,272.1 213.3,273.3 C215.1,274.5 218.4,277.0 220.0,278.3 C221.6,279.6 223.9,281.7 225.0,283.3 C226.1,284.9 226.7,289.0 228.3,290.0 C229.9,291.0 234.5,290.2 236.7,290.8 C238.9,291.4 243.0,293.2 245.0,294.2 C247.0,295.2 250.4,296.9 251.7,298.3 C253.0,299.7 254.7,303.0 255.0,305.0 C255.3,307.0 254.9,311.1 254.2,313.3 C253.5,315.5 250.9,320.1 250.0,321.7 C249.1,323.3 248.8,323.6 247.5,325.0 C246.2,326.4 241.7,330.5 240.0,332.5 C238.3,334.5 237.0,338.0 235.0,340.0 C233.0,342.0 227.0,345.5 225.0,347.5 C223.0,349.5 221.7,353.0 220.0,355.0 C218.3,357.0 213.8,360.5 212.5,362.5 C211.2,364.5 211.0,368.0 210.0,370.0 C209.0,372.0 205.7,374.8 205.0,377.5 C204.3,380.2 206.0,388.3 205.0,390.0 C204.0,391.7 198.7,391.7 197.5,390.0 C196.3,388.3 196.5,380.8 196.0,377.5 C195.5,374.2 194.4,368.3 193.8,365.0 C193.1,361.7 191.7,355.8 191.0,352.5 C190.3,349.2 189.4,343.3 188.8,340.0 C188.1,336.7 186.5,330.4 185.8,328.0 C185.1,325.6 184.1,323.9 183.3,321.7 C182.5,319.5 180.8,313.9 180.0,311.7 C179.2,309.5 178.2,307.0 177.5,305.0 C176.8,303.0 175.3,298.9 175.0,296.7 C174.7,294.5 174.8,290.5 175.0,288.3 C175.2,286.1 176.1,282.1 176.7,280.0 C177.3,277.9 178.3,273.9 179.2,272.5 Z"/>
<path fill="#B9B5BA" d="M512.5,335.8 C513.2,334.6 515.0,333.4 516.7,332.5 C518.4,331.6 523.2,330.5 525.0,329.2 C526.8,327.9 528.6,324.1 530.0,322.5 C531.4,320.9 534.2,318.3 535.8,317.5 C537.4,316.7 540.5,317.3 541.7,316.7 C542.9,316.1 543.5,313.8 545.0,313.3 C546.5,312.8 552.0,312.8 553.3,313.3 C554.6,313.8 555.0,315.8 555.0,316.7 C555.0,317.6 552.8,319.0 553.5,320.0 C554.2,321.0 558.8,324.4 560.0,324.2 C561.2,324.0 561.9,320.0 562.5,318.3 C563.1,316.6 563.6,311.9 564.2,311.7 C564.8,311.5 565.9,314.7 566.7,316.7 C567.5,318.7 568.9,324.5 570.0,326.7 C571.1,328.9 573.8,331.5 575.0,333.3 C576.2,335.1 578.5,338.2 579.2,340.0 C579.9,341.8 580.2,345.1 580.0,346.7 C579.8,348.3 578.7,350.5 578.0,352.0 C577.3,353.5 576.3,356.3 575.0,358.3 C573.7,360.3 570.1,365.4 568.3,366.7 C566.5,368.0 563.5,368.5 561.7,368.3 C559.9,368.1 556.5,366.8 555.0,365.5 C553.5,364.2 551.7,359.8 550.8,358.3 C549.9,356.8 549.3,354.9 548.3,354.2 C547.3,353.5 544.8,353.5 543.3,353.3 C541.8,353.1 538.7,352.2 536.7,352.5 C534.7,352.8 530.5,355.0 528.3,355.8 C526.1,356.6 521.9,357.8 520.0,358.3 C518.1,358.8 515.2,359.6 514.2,359.2 C513.2,358.8 512.5,356.5 512.5,355.0 C512.5,353.5 514.3,350.1 514.2,348.3 C514.1,346.5 511.9,343.4 511.7,341.7 C511.5,340.0 511.8,337.0 512.5,335.8 Z"/>
<path fill="#B9B5BA" d="M560.0,374.2 C560.7,373.6 564.5,373.7 565.0,374.5 C565.5,375.3 563.7,378.6 563.0,379.2 C562.3,379.8 561.5,378.8 561.0,378.0 C560.5,377.2 559.3,374.8 560.0,374.2 Z"/>
<path fill="#B9B5BA" d="M610.8,360.0 C611.3,360.0 612.0,363.9 613.3,365.0 C614.5,366.1 618.3,365.6 618.3,366.7 C618.3,367.8 614.7,370.4 613.3,371.7 C611.9,372.9 610.7,374.5 610.0,374.2 C609.3,373.9 608.9,371.5 609.0,370.0 C609.1,368.5 610.2,366.7 610.5,365.0 C610.8,363.3 610.3,360.0 610.8,360.0 Z"/>
<path fill="#B9B5BA" d="M608.3,373.3 C607.8,374.4 605.2,377.2 603.3,379.2 C601.4,381.1 598.4,383.9 596.7,385.0 C595.0,386.1 593.6,386.4 593.3,385.8 C593.0,385.2 593.6,383.2 595.0,381.7 C596.4,380.2 599.9,378.2 601.7,376.7 C603.5,375.2 604.9,373.1 606.0,372.5 C607.1,371.9 608.8,372.2 608.3,373.3 Z"/>
</g>
<!-- header -->
<path fill="#8CC63F" d="M596,-6 L702.3,-6.0 C702.4,-5.0 702.7,-2.7 702.8,0.0 C702.9,2.7 703.2,6.7 703.0,10.0 C702.8,13.3 702.1,17.1 701.4,20.0 C700.7,22.9 700.0,25.0 699.0,27.7 C698.0,30.4 696.6,33.9 695.3,36.0 C694.0,38.1 692.9,39.0 691.4,40.6 C689.9,42.2 688.2,44.0 686.3,45.7 C684.4,47.4 682.1,49.2 680.1,50.9 C678.1,52.6 677.2,54.3 674.5,56.0 C671.8,57.7 667.7,59.6 664.0,61.1 C660.3,62.6 656.5,63.7 652.5,64.8 C648.5,65.9 644.8,67.0 640.0,67.5 C635.2,68.0 626.7,68.0 624.0,68.1 L596,68.1 Z"/><path fill="#F26A30" d="M596,-6 L690.3,-6.0 C690.4,-5.0 690.7,-2.7 690.8,0.0 C690.9,2.7 691.2,6.7 691.0,10.0 C690.8,13.3 690.1,17.1 689.4,20.0 C688.7,22.9 688.0,25.1 687.0,27.7 C686.0,30.3 684.6,33.6 683.3,35.7 C682.0,37.8 680.9,38.7 679.4,40.3 C677.9,41.9 676.2,43.7 674.3,45.4 C672.4,47.1 670.1,48.9 668.1,50.6 C666.1,52.3 665.2,54.0 662.5,55.7 C659.8,57.4 655.7,59.3 652.0,60.8 C648.3,62.3 644.5,63.4 640.5,64.5 C636.5,65.6 632.8,66.7 628.0,67.2 C623.2,67.8 614.7,67.7 612.0,67.8 L596,67.8 Z"/><path fill="#02354C" d="M0,-6 L666.3,-6.0 C666.4,-5.0 666.7,-2.7 666.8,0.0 C666.9,2.7 667.2,6.7 667.0,10.0 C666.8,13.3 666.1,17.1 665.4,20.0 C664.7,22.9 664.0,25.1 663.0,27.7 C662.0,30.3 660.6,33.4 659.3,35.4 C658.0,37.4 656.9,38.4 655.4,40.0 C653.9,41.6 652.2,43.4 650.3,45.1 C648.4,46.8 646.1,48.6 644.1,50.3 C642.1,52.0 641.2,53.7 638.5,55.4 C635.8,57.1 631.7,59.0 628.0,60.5 C624.3,62.0 620.5,63.1 616.5,64.2 C612.5,65.3 608.8,66.4 604.0,66.9 C599.2,67.5 590.7,67.4 588.0,67.5 L0,67.5 Z"/>
<!-- footer lines -->
<rect x="0" y="390.6" width="780" height="1.8" fill="#A3A3A3"/>
<rect x="0" y="438.3" width="780" height="1.7" fill="#A3A3A3"/>
<!-- logo -->
<rect x="609.9" y="396.9" width="33.8" height="34.8" rx="2.8" fill="#EE6A2C"/>
<path d="M614.9,411.8 C617,406.6 623,403.4 630.6,405.2 C625.5,407 620.5,409.6 614.9,411.8 Z" fill="#fff"/>
<path d="M636.9,409 C642,416.5 637.6,426.6 628,428.3 C633,424 636,417.3 636.9,409 Z" fill="#fff"/>
<path d="M616.6,411.6 C620,411.3 623.5,414.5 625.3,418.5 L628.3,425 L626.2,427.6 C624.5,422 621.5,415.5 616.6,411.6 Z" fill="#fff"/>
<path d="M626.7,426.2 L636.3,404" fill="none" stroke="#fff" stroke-width="2.7" stroke-linecap="round"/>
<text x="639.2" y="429.6" font-family="Liberation Sans, sans-serif" font-size="2.6" fill="#fbd9c8">TM</text>
<rect x="647" y="412.3" width="106" height="0.9" fill="#A9CCD9"/>
</svg>
<div id="title" class="t">Pigments Market Revenue Share</div>
<div id="sub" class="t">By Region 2018 (US$ Mn)</div>
<div id="cagr" class="t">2019-2027 CAGR of <b>~4.6%</b></div>

<div class="t c" style="left:120.3px;top:145px;font-size:12px;line-height:14.5px;">North<br>America</div>
<div class="t c" style="left:119.6px;top:174.1px;font-size:20.7px;">XX.X</div>

<div class="t c" style="left:377.3px;top:139px;font-size:14.5px;">Europe</div>
<div class="t c" style="left:376.2px;top:158.1px;font-size:15.9px;">XX.X</div>

<div class="t c" style="left:492.5px;top:194px;font-size:20px;line-height:23.8px;">Asia<br>Pacific</div>
<div class="t c" style="left:494px;top:244.6px;font-size:23.4px;">45%</div>

<div class="t c" style="left:348px;top:235px;font-size:14.5px;line-height:17.3px;">Middle<br>East<br><span style="word-spacing:-2px">&amp; Africa</span></div>
<div class="t c" style="left:348px;top:288.8px;font-size:15.7px;">XX.X</div>

<div class="t c" style="left:196.5px;top:288.2px;font-size:14px;line-height:18px;">Latin<br>America</div>
<div class="t c" style="left:196.5px;top:326.1px;font-size:15.9px;">XX.X</div>

<div class="t" style="left:646.6px;top:396.1px;font-size:16.7px;color:#1B5261;transform-origin:0 0;transform:scaleX(0.759);-webkit-text-stroke:0.45px #1B5261;">TRANSPARENCY</div>
<div class="t" style="left:657px;top:414.9px;font-size:9px;font-weight:normal;color:#8FAE52;transform-origin:0 0;transform:scaleX(0.9);">MARKET</div>
<div class="t" style="left:697px;top:414.9px;font-size:9px;font-weight:normal;color:#D9804F;transform-origin:0 0;transform:scaleX(0.905);">RESEARCH</div>
<div class="t" style="left:647.2px;top:425.8px;font-size:7px;color:#222;transform-origin:0 0;transform:scaleX(0.876);">In-depth Analysis. Accurate Results</div>
</body></html>
